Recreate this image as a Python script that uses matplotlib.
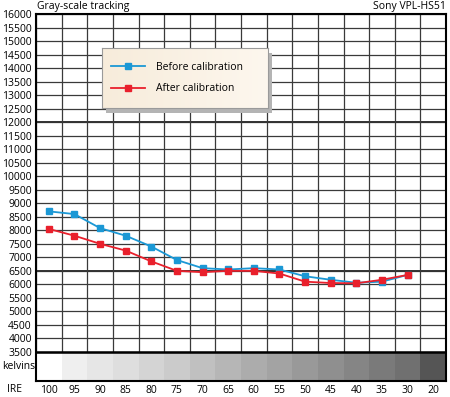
import numpy as np
import matplotlib.pyplot as plt
from matplotlib.colors import LinearSegmentedColormap

plt.rcParams['font.family'] = ['Open Sans', 'DejaVu Sans']

# --- data ---
ire_labels = ["100", "95", "90", "85", "80", "75", "70", "65",
              "60", "55", "50", "45", "40", "35", "30", "20"]
before_cal = [8700, 8600, 8080, 7800, 7400, 6900, 6600, 6550,
              6600, 6550, 6300, 6170, 6060, 6100, 6350, np.nan]
after_cal = [8050, 7800, 7500, 7250, 6850, 6500, 6450, 6500,
             6500, 6400, 6100, 6050, 6040, 6170, 6350, np.nan]
kelvin_ticks = list(range(3500, 16001, 500))

# gray patch shade under each IRE column
patch_gray = ["#ffffff", "#efefef", "#e6e6e6", "#dedede", "#d4d4d4", "#cbcbcb",
              "#c0c0c0", "#b6b6b6", "#acacac", "#a3a3a3", "#999999", "#8f8f8f",
              "#858585", "#7a7a7a", "#707070", "#555555"]

blue = "#1b98d5"
red = "#e9202c"

fig = plt.figure(figsize=(4.5, 3.97), dpi=100)
ax = fig.add_axes([36 / 450, 1 - 381 / 397, 410 / 450, 367 / 397])

x = np.arange(len(ire_labels))
n = len(ire_labels)
y_bottom = 3500 - 29 * 500 / 13.5
ax.set_xlim(-0.5, n - 0.5)
ax.set_ylim(y_bottom, 16000)

# gray-scale band below the chart
ax.bar(x, 3500 - y_bottom, bottom=y_bottom, width=1.0, color=patch_gray,
       edgecolor="none", zorder=1)

# grid
ax.hlines(kelvin_ticks, -0.5, n - 0.5, color="#3a3a3a", lw=0.9, zorder=2)
ax.hlines([12000, 6500], -0.5, n - 0.5, color="#333333", lw=1.4, zorder=2)
ax.hlines(3500, -0.5, n - 0.5, color="black", lw=1.8, zorder=3)
ax.vlines(np.arange(n + 1) - 0.5, 3500, 16000, color="#3a3a3a", lw=0.9, zorder=2)

ax.plot(x, before_cal, color=blue, lw=1.3, marker="s", ms=4, zorder=5,
        label="Before calibration")
ax.plot(x, after_cal, color=red, lw=1.3, marker="s", ms=4, zorder=6,
        label="After calibration")

for s in ax.spines.values():
    s.set_linewidth(1.5)
    s.set_color("black")

ax.set_yticks(kelvin_ticks)
ax.set_yticklabels([str(v) for v in kelvin_ticks])
ax.set_xticks(x)
ax.set_xticklabels(ire_labels)
ax.tick_params(axis="both", length=0, labelsize=7.5, colors="black", pad=3)

ax.text(-0.002, (3500 + y_bottom) / 2, "kelvins", ha="right", va="center",
        fontsize=7.5, transform=ax.get_yaxis_transform())
fig.text(15 / 450, 1 - 390 / 397, "IRE", ha="center", va="center", fontsize=7.5)
fig.text(37 / 450, 1 - 9 / 397, "Gray-scale tracking", ha="left", va="baseline", fontsize=7.5)
fig.text(446 / 450, 1 - 9 / 397, "Sony VPL-HS51", ha="right", va="baseline", fontsize=7.5)

# legend box with drop shadow
lx, ly, lw_, lh = 102 / 450, 1 - 108 / 397, 166 / 450, 60 / 397
shadow = fig.add_axes([lx + 4 / 450, ly - 5 / 397, lw_, lh], zorder=8)
shadow.set_facecolor("#b4b4b4")
shadow.set_xticks([])
shadow.set_yticks([])
for s in shadow.spines.values():
    s.set_visible(False)
leg = fig.add_axes([lx, ly, lw_, lh], zorder=9)
grad = np.linspace(0, 1, 64).reshape(1, -1)
leg.imshow(grad, extent=(0, 1, 0, 1), aspect="auto",
           cmap=LinearSegmentedColormap.from_list("cream", ["#f7ecdb", "#fdf7ee"]))
leg.set_xlim(0, 1)
leg.set_ylim(0, 1)
leg.set_xticks([])
leg.set_yticks([])
for s in leg.spines.values():
    s.set_linewidth(0.8)
    s.set_color("#9a9a9a")
handles, labels = ax.get_legend_handles_labels()
leg.legend(handles, labels, loc="center left", frameon=False, fontsize=7.5,
           handlelength=3.2, handletextpad=1.1, labelspacing=1.0,
           borderaxespad=0.5)

fig.savefig("out.png", dpi=100)
